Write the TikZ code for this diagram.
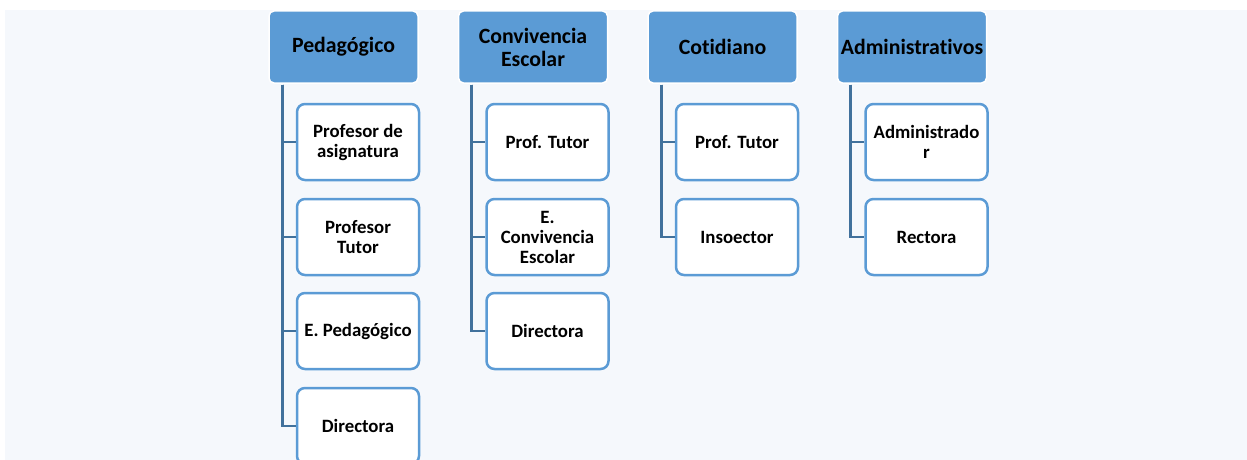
\documentclass[tikz,border=0pt]{standalone}
\usepackage{fontspec}
\setmainfont{Carlito}[Ligatures={NoCommon}]
\definecolor{panel}{HTML}{F5F8FC}
\definecolor{hdrblue}{HTML}{5B9BD5}
\definecolor{connblue}{HTML}{41719C}
\tikzset{
  hdr/.style={draw=white, line width=1.5pt, fill=hdrblue, rounded corners=5pt,
    minimum width=149pt, minimum height=72pt, inner sep=0pt, align=center,
    font=\fontsize{21.8}{23}\selectfont\bfseries},
  child/.style={draw=hdrblue, line width=2.5pt, fill=white, rounded corners=8pt,
    minimum width=122pt, minimum height=76pt, inner sep=0pt, align=center,
    font=\fontsize{18.8}{20}\selectfont\bfseries},
  conn/.style={draw=connblue, line width=2.8pt}
}
\begin{document}
\begin{tikzpicture}[x=1pt,y=-1pt]
\useasboundingbox (0,0) rectangle (1247,460);
\fill[panel] (5,10) rectangle (1247,460);
% column 1
\node[hdr] (A) at (343.5,47) {Pedagógico};
\node[child] (A1) at (358,142) {Profesor de\\asignatura};
\node[child] (A2) at (358,237) {Profesor\\Tutor};
\node[child] (A3) at (358,331) {E. Pedagógico};
\node[child] (A4) at (358,426) {Directora};
% column 2
\node[hdr] (B) at (533,47) {Convivencia\\Escolar};
\node[child] (B1) at (547.5,142) {Prof. Tutor};
\node[child] (B2) at (547.5,237) {E.\\Convivencia\\Escolar};
\node[child] (B3) at (547.5,331) {Directora};
% column 3
\node[hdr] (C) at (722.5,47) {Cotidiano};
\node[child] (C1) at (737,142) {Prof. Tutor};
\node[child] (C2) at (737,237) {Insoector};
% column 4
\node[hdr] (D) at (912,47) {Administrativos};
\node[child] (D1) at (926.5,142) {Administrado\\r};
\node[child] (D2) at (926.5,237) {Rectora};
% connectors
\foreach \h/\c in {A/A1,A/A2,A/A3,A/A4,B/B1,B/B2,B/B3,C/C1,C/C2,D/D1,D/D2}{
  \draw[conn] ([xshift=14pt,yshift=-0.8pt]\h.south west) |- (\c.west);
}
\end{tikzpicture}
\end{document}
